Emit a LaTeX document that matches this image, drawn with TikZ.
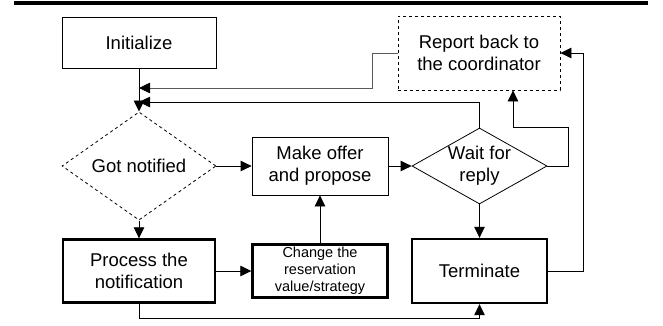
\documentclass[tikz,border=0pt]{standalone}
\usepackage{fontspec}
\setmainfont{Liberation Sans}
\usetikzlibrary{shapes.geometric,arrows.meta,calc}

\begin{document}
\begin{tikzpicture}[x=1pt,y=-1pt,line width=0.8pt,
    box/.style={draw,rectangle,inner sep=0pt,align=center,font=\fontsize{18.5}{22}\selectfont},
    boldbox/.style={box,line width=2.4pt},
    decision/.style={draw,diamond,inner sep=0pt,align=center,font=\fontsize{18.5}{22}\selectfont,minimum width=154pt,minimum height=76pt},
    >={Triangle[length=11pt,width=10.5pt]}]
    \useasboundingbox (0,0) rectangle (663,325);
    \draw[line width=4pt] (14,3) -- (648,3);

    \node[box,minimum width=154pt,minimum height=51pt]            (init)     at (139,42.5) {Initialize};
    \node[box,dashed,minimum width=162pt,minimum height=74pt]     (report)   at (479,53)   {Report back to\\the coordinator};
    \node[decision,dashed]                                        (notified) at (139,166)  {Got notified};
    \node[box,minimum width=136pt,minimum height=58pt]            (offer)    at (320,166)  {Make offer\\and propose};
    \node[decision,minimum width=135pt,inner sep=-8pt]            (wait)     at (479.5,166) {Wait for\\reply};
    \node[boldbox,minimum width=152pt,minimum height=63pt]        (process)  at (139,271)  {Process the\\notification};
    \node[boldbox,minimum width=135pt,minimum height=53pt,font=\fontsize{14.5}{17}\selectfont] (change) at (320,271) {Change the\\reservation\\value/strategy};
    \node[boldbox,minimum width=135pt,minimum height=64pt]        (term)     at (479.5,271) {Terminate};

    % junctions on the main line
    \coordinate (j1) at (139,88);
    \coordinate (j2) at (139,102);
    \coordinate (r1) at (568,127);

    \draw[->] (init) -- (notified);
    \draw[-{Triangle[length=11pt,width=10.5pt,black]},black!65] (report.west) -- ++(-25,0) |- (j1);
    \draw[->] (wait.north) |- (j2);
    \draw[->] (notified) -- (offer);
    \draw[->] (offer) -- (wait);
    \draw[->] (wait.east) -| (r1) -| ([xshift=34pt]report.south);
    \draw[->] (notified) -- (process);
    \draw[->] (wait) -- (term);
    \draw[->] (process) -- (change);
    \draw[->] (change) -- (offer);
    \draw[->] (term.east) -- ++(35,0) |- (report.east);
    \draw[->] (process.south) -- ++(0,15) -| (term.south);
\end{tikzpicture}
\end{document}
